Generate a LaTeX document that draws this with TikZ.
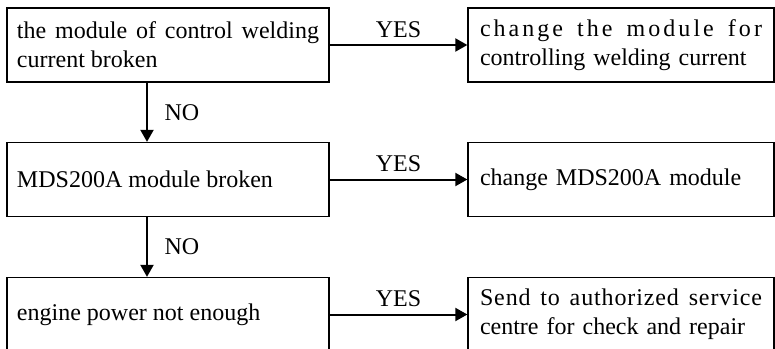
\documentclass[tikz,border=0pt]{standalone}
\usepackage{fontspec}
\setmainfont{Liberation Serif}
\usetikzlibrary{positioning,arrows.meta}

% roztažení řádku po písmenech (mezery psát jako ~)
\def\spreadloop#1{\ifx#1\relax\else#1\hfil\expandafter\spreadloop\fi}
\newcommand\spreadline[1]{\makebox[\linewidth][s]{\spreadloop#1\relax\hfilneg}}

\begin{document}
\begin{tikzpicture}[x=0.5pt, y=-0.5pt,
  every node/.style={font=\fontsize{12}{14.5}\selectfont},
  fault/.style={draw, line width=0.65pt, minimum height=37pt, inner xsep=5pt, text width=151pt, align=justify},
  remedy/.style={draw, line width=0.65pt, minimum height=37pt, inner xsep=6pt, text width=141pt, align=left},
  flow/.style={line width=1pt, -{Triangle[length=6pt,width=6.5pt]}}]
  \clip (0,0) rectangle (775,348);

  % poruchy
  \node[fault] (ctrl)   at (168,45)    {the module of control welding current broken};
  \node[fault] (mds)    at (168,179.5) {MDS200A module broken};
  \node[fault] (engine) at (168,314.5) {engine power not enough};

  % nápravy
  \node[remedy] (ctrlfix)   at (621,45)    {\spreadline{change~the~module~for}\\controlling welding current};
  \node[remedy] (mdsfix)    at (621,179.5) {change MDS200A module};
  \node[remedy] (enginefix) at (621,314.5) {\spreadline{Send~to~authorized~service}\\centre for check and repair};

  % šipky YES
  \draw[flow] (ctrl)   -- node[above] {YES} (ctrlfix);
  \draw[flow] (mds)    -- node[above] {YES} (mdsfix);
  \draw[flow] (engine) -- node[above] {YES} (enginefix);

  % šipky NO
  \coordinate (col) at (147,0);
  \draw[flow] (ctrl.south -| col) -- node[right=5pt] {NO} (mds.north -| col);
  \draw[flow] (mds.south -| col)  -- node[right=5pt] {NO} (engine.north -| col);
\end{tikzpicture}
\end{document}
